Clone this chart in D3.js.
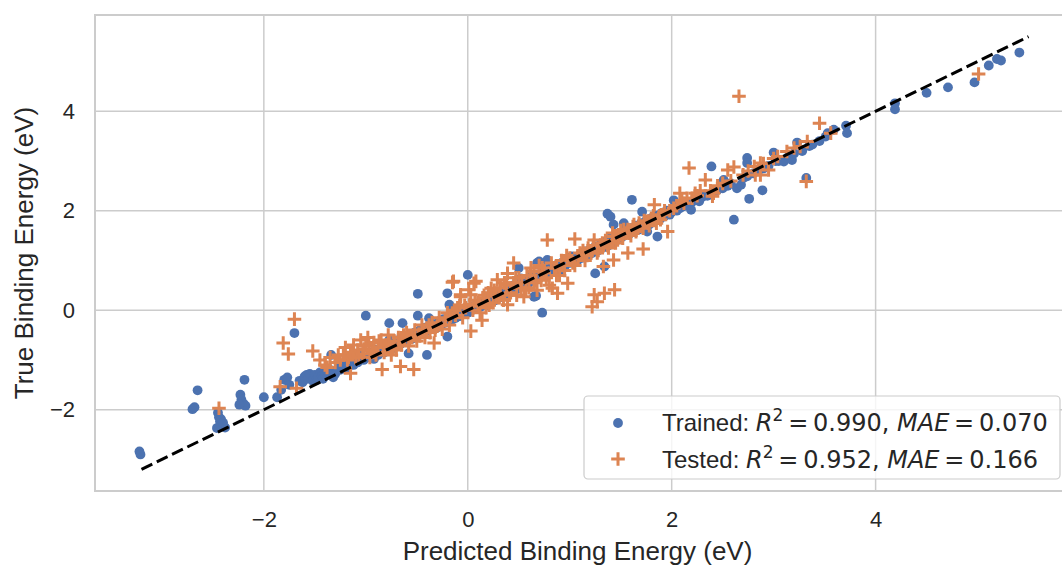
<!DOCTYPE html>
<html>
<head>
<meta charset="utf-8">
<script src="https://cdn.jsdelivr.net/npm/d3@7"></script>
<style>
  body { margin: 0; background: #fff; }
  svg { display: block; }
</style>
</head>
<body>
<div id="chart"></div>
<script>
// Trained points: [predicted, true]
const trainedPoints = [
  [-3.22,-2.84],[-3.21,-2.9],
  [-2.65,-1.61],[-2.70,-1.99],[-2.68,-1.95],
  [-2.45,-2.06],[-2.44,-2.15],[-2.43,-2.24],[-2.41,-2.3],[-2.38,-2.36],[-2.46,-2.37],[-2.42,-2.19],[-2.40,-2.26],
  [-2.23,-1.70],[-2.22,-1.80],[-2.20,-1.88],[-2.18,-1.92],[-2.24,-1.90],[-2.19,-1.40],
  [-2.00,-1.75],[-1.87,-1.75],
  [-1.80,-1.40],[-1.77,-1.35],[-1.75,-1.50],[-1.83,-1.60],[-1.70,-0.46],
  [-1.65,-1.42],[-1.62,-1.45],[-1.60,-1.33],[-1.58,-1.3],[-1.57,-1.38],[-1.55,-1.28],[-1.52,-1.42],[-1.50,-1.30],
  [-1.48,-1.4],[-1.47,-1.35],[-1.45,-1.25],[-1.43,-1.32],[-1.42,-1.38],[-1.40,-1.30],[-1.38,-1.22],[-1.37,-1.25],
  [-1.35,-1.20],[-1.33,-1.28],[-1.32,-1.35],[-1.30,-1.28],[-1.28,-1.20],[-1.26,-1.15],[-1.25,-1.2],
  [-1.34,-0.90],[-1.22,-1.12],[-1.20,-1.05],[-1.18,-1.18],[-1.16,-1.08],
  [-1.15,-1.0],[-1.12,-1.1],[-1.10,-0.95],[-1.08,-1.05],[-1.06,-0.98],[-1.05,-0.92],[-1.02,-1.0],[-1.0,-0.11],
  [-0.98,-0.95],[-0.96,-0.9],[-0.95,-0.85],[-0.92,-0.98],[-0.9,-0.8],[-0.88,-0.9],[-0.86,-0.82],[-0.85,-0.75],
  [-0.82,-0.85],[-0.8,-0.7],[-0.79,-0.75],[-0.77,-0.26],[-0.77,-0.6],[-0.75,-0.78],[-0.72,-0.65],[-0.7,-0.72],
  [-0.69,-0.66],[-0.68,-0.6],[-0.66,-0.68],[-0.64,-0.26],[-0.63,-0.6],[-0.62,-0.55],[-0.6,-0.62],[-0.58,-0.87],
  [-0.57,-0.5],[-0.56,-0.53],[-0.55,-0.58],[-0.52,-0.45],[-0.51,-0.55],[-0.5,-0.5],[-0.49,0.33],[-0.49,-0.11],
  [-0.47,-0.4],[-0.46,-0.44],[-0.45,-0.48],[-0.43,-0.46],[-0.42,-0.35],[-0.40,-0.9],[-0.4,-0.42],[-0.39,-0.36],
  [-0.38,-0.16],[-0.37,-0.3],[-0.35,-0.38],[-0.34,-0.32],[-0.32,-0.28],[-0.31,-0.3],[-0.3,-0.35],[-0.28,-0.22],
  [-0.27,-0.26],[-0.26,-0.3],[-0.24,-0.18],[-0.23,-0.22],[-0.22,-0.25],[-0.2,-0.53],[-0.2,0.34],[-0.19,-0.18],
  [-0.18,0.11],[-0.18,-0.15],[-0.16,-0.2],[-0.15,-0.14],[-0.14,-0.1],[-0.12,-0.16],[-0.11,-0.09],[-0.1,-0.05],
  [-0.08,-0.12],[-0.07,-0.06],[-0.06,-0.02],[-0.04,-0.08],[-0.03,-0.03],[-0.02,0.0],[0.0,0.71],[0.0,-0.05],
  [0.01,-0.02],[0.02,0.04],
  [0.04,0.0],[0.05,0.05],[0.06,0.08],[0.08,0.02],[0.09,0.08],[0.1,0.12],[0.12,0.06],[0.13,0.12],[0.15,0.15],
  [0.17,0.18],[0.18,0.1],[0.2,0.22],[0.21,0.2],[0.22,0.16],[0.25,0.3],[0.26,0.24],[0.27,0.2],[0.3,0.33],
  [0.31,0.3],[0.32,0.26],[0.35,0.38],[0.36,0.33],[0.38,0.3],[0.4,0.45],[0.41,0.4],[0.42,0.36],[0.45,0.5],
  [0.46,0.44],[0.48,0.42],[0.5,0.55],[0.5,0.85],[0.52,0.64],[0.53,0.52],[0.55,0.5],[0.57,0.56],[0.58,0.62],
  [0.6,0.55],[0.62,0.68],[0.63,0.6],[0.65,0.27],[0.67,0.29],[0.68,0.95],[0.69,0.7],[0.7,0.98],[0.7,0.66],
  [0.73,-0.05],[0.72,0.75],[0.74,0.72],[0.75,0.7],[0.78,1.01],[0.78,0.82],[0.8,0.75],[0.81,0.8],[0.83,0.88],
  [0.85,0.8],[0.86,0.86],[0.88,0.92],[0.9,0.88],[0.91,0.81],[0.92,0.95],[0.95,0.88],[0.96,0.94],[0.98,1.02],
  [1.0,0.95],[1.02,1.08],[1.03,1.0],[1.05,0.98],[1.07,1.06],[1.08,1.01],[1.1,1.12],[1.12,1.05],[1.13,1.1],
  [1.15,1.18],[1.17,1.16],[1.18,1.1],[1.2,1.22],[1.22,1.15],[1.23,1.2],[1.25,0.74],[1.25,1.28],[1.27,1.26],
  [1.28,1.2],[1.3,1.32],[1.32,1.25],[1.33,1.3],[1.34,0.88],[1.35,1.38],[1.37,1.94],[1.38,1.3],[1.39,1.36],
  [1.4,1.88],[1.4,1.45],[1.42,1.36],[1.43,1.72],[1.44,1.42],[1.45,1.5],[1.48,1.42],[1.49,1.47],[1.5,1.55],
  [1.52,1.48],[1.53,1.75],[1.54,1.52],[1.55,1.6],[1.58,1.52],[1.59,1.58],[1.6,1.65],[1.61,2.22],[1.62,1.58],
  [1.63,1.62],[1.65,1.7],[1.67,1.66],[1.68,1.62],[1.7,1.75],[1.71,1.98],[1.72,1.68],[1.73,1.7],[1.75,1.8],
  [1.76,1.58],[1.77,1.76],[1.78,1.72],[1.8,1.85],[1.82,1.78],[1.83,1.82],[1.85,1.9],[1.86,1.48],[1.87,1.86],
  [1.88,1.82],[1.9,1.95],[1.92,1.88],[1.93,1.9],[1.95,2.0],[1.97,1.96],[1.98,1.92],[2.0,1.98],
  [2.02,2.21],[2.05,2.0],[2.08,2.05],[2.1,2.08],[2.13,2.1],[2.15,2.12],[2.19,2.02],[2.2,2.18],[2.25,2.22],
  [2.27,2.19],[2.3,2.28],[2.33,2.32],[2.35,2.3],[2.39,2.89],[2.42,2.38],[2.45,2.42],[2.5,2.45],[2.51,2.62],
  [2.55,2.5],[2.58,2.55],[2.61,1.82],[2.64,2.45],[2.68,2.52],[2.7,2.65],[2.74,2.69],[2.74,3.06],[2.74,2.96],
  [2.76,2.24],[2.8,2.75],[2.85,2.8],[2.89,2.41],[2.9,2.85],[2.95,2.9],[3.0,3.17],[3.02,3.0],[3.05,3.0],
  [3.1,2.99],[3.15,3.1],[3.18,3.02],[3.2,3.15],[3.23,3.37],[3.28,3.2],[3.32,2.66],[3.35,3.3],[3.38,3.33],
  [3.45,3.4],[3.51,3.49],[3.53,3.56],[3.59,3.63],[3.71,3.71],[3.72,3.56],
  [4.19,4.16],[4.19,4.04],[4.50,4.37],[4.71,4.48],[4.97,4.58],[5.11,4.92],[5.19,5.05],[5.23,5.02],[5.41,5.18]
];

// Tested points: [predicted, true]
const testedPoints = [
  [-2.44,-1.97],[-1.84,-1.54],[-1.70,-0.18],[-1.81,-0.66],[-1.76,-0.88],[-1.52,-0.82],[-1.68,-1.57],
  [-1.45,-1.0],[-1.40,-1.1],[-1.35,-0.95],[-1.30,-1.05],[-1.38,-1.15],[-1.27,-0.9],[-1.25,-1.0],
  [-1.22,-0.9],[-1.2,-0.75],[-1.18,-1.0],[-1.17,-0.95],[-1.15,-1.27],[-1.15,-0.85],[-1.13,-0.85],[-1.12,-0.7],
  [-1.1,-0.95],[-1.08,-0.8],[-1.07,-0.9],[-1.05,-0.6],[-1.03,-0.88],[-1.02,-0.78],[-1.0,-0.72],[-0.98,-0.55],
  [-0.97,-0.7],[-0.96,-0.95],[-0.94,-0.8],[-0.93,-0.85],[-0.92,-0.65],[-0.9,-0.9],[-0.88,-0.75],[-0.87,-0.62],
  [-0.84,-1.19],[-0.85,-0.6],[-0.83,-0.72],[-0.82,-0.85],[-0.8,-0.7],[-0.78,-0.5],[-0.77,-0.65],[-0.75,-0.9],
  [-0.73,-0.75],[-0.72,-0.62],[-0.7,-0.8],[-0.68,-0.55],[-0.67,-0.62],[-0.66,-1.13],[-0.65,-0.7],[-0.63,-0.5],
  [-0.62,-0.6],[-0.6,-0.45],[-0.58,-0.72],[-0.57,-0.6],[-0.55,-0.55],[-0.53,-1.19],[-0.52,-0.4],[-0.5,-0.62],
  [-0.48,-0.48],[-0.47,-0.52],[-0.45,-0.3],[-0.43,-0.42],[-0.42,-0.55],[-0.4,-0.38],[-0.38,-0.3],[-0.37,-0.45],
  [-0.35,-0.25],[-0.33,-0.66],[-0.32,-0.4],[-0.3,-0.32],[-0.28,-0.15],[-0.27,-0.28],[-0.25,-0.38],[-0.22,-0.2],
  [-0.2,-0.05],[-0.18,-0.3],[-0.17,-0.12],[-0.15,0.56],[-0.14,0.58],[-0.13,0.0],[-0.12,-0.1],[-0.1,0.05],
  [-0.08,0.1],[-0.07,0.31],[-0.07,0.27],[-0.05,-0.15],[-0.03,0.1],[-0.02,0.05],
  [0.01,0.41],[0.02,0.12],[0.03,0.31],[0.03,-0.42],[0.05,0.0],[0.06,0.54],[0.07,0.2],[0.08,0.58],[0.1,0.15],
  [0.11,0.08],[0.12,-0.05],[0.14,-0.2],[0.15,0.25],[0.16,0.3],[0.18,0.05],[0.2,0.35],[0.21,0.1],[0.23,0.44],
  [0.25,0.15],[0.26,0.4],[0.28,0.28],[0.29,0.61],[0.31,0.25],[0.32,0.45],[0.35,0.2],[0.36,0.55],[0.38,0.5],
  [0.39,0.74],[0.39,0.11],[0.41,0.3],[0.42,0.35],[0.45,0.95],[0.45,0.55],[0.47,0.65],[0.48,0.3],[0.5,0.65],
  [0.52,0.45],[0.53,0.55],[0.55,0.27],[0.57,0.4],[0.58,0.7],[0.6,0.45],[0.61,0.7],[0.62,0.85],[0.65,0.78],
  [0.65,0.55],[0.67,0.6],[0.68,0.4],[0.7,0.9],[0.72,0.6],[0.73,0.85],[0.75,0.75],[0.77,0.65],[0.78,1.41],
  [0.8,0.5],[0.82,0.95],[0.83,0.44],[0.85,0.85],[0.87,0.7],[0.88,0.34],[0.9,0.7],[0.92,1.0],[0.93,0.9],
  [0.95,0.8],[0.97,1.1],[0.98,0.54],[1.0,1.05],[1.03,0.95],[1.05,1.43],[1.05,0.9],[1.08,1.05],[1.1,1.15],
  [1.13,1.2],[1.15,1.0],[1.17,1.1],[1.18,1.25],[1.21,1.15],[1.23,1.3],[1.24,1.41],
  [1.22,0.07],[1.24,0.31],[1.27,0.17],[1.34,0.34],[1.27,1.15],[1.28,1.2],[1.3,1.31],[1.32,1.35],[1.33,0.88],
  [1.35,1.4],[1.37,1.3],[1.38,1.25],[1.42,1.55],[1.43,1.01],[1.44,0.41],[1.43,1.48],[1.45,1.35],[1.47,1.41],
  [1.48,1.5],[1.5,1.6],[1.52,1.45],[1.53,1.62],[1.55,1.55],[1.57,1.62],[1.57,1.15],[1.58,1.55],[1.6,1.5],
  [1.62,1.68],[1.63,1.72],[1.65,1.58],[1.67,1.65],[1.68,1.75],[1.72,1.23],[1.72,1.65],[1.73,1.8],[1.75,1.78],
  [1.77,1.75],[1.78,1.7],[1.8,1.85],[1.82,1.9],[1.83,2.12],[1.85,1.75],[1.87,1.85],[1.89,1.82],[1.9,1.92],
  [1.93,2.0],[1.96,1.58],[1.98,2.0],[2.02,2.05],[2.05,2.1],[2.08,2.35],[2.1,2.2],[2.12,2.15],[2.15,2.25],
  [2.17,2.86],[2.2,2.25],[2.23,2.35],[2.25,2.3],[2.28,2.4],[2.33,2.62],[2.38,2.4],[2.4,2.29],[2.41,2.35],
  [2.45,2.5],[2.5,2.55],[2.55,2.82],[2.58,2.6],[2.61,2.88],[2.66,4.30],[2.7,2.72],[2.75,2.8],[2.81,2.89],
  [2.82,2.72],[2.87,2.96],[2.87,2.72],[2.9,2.95],[2.95,2.82],[3.0,3.05],[3.04,3.09],[3.13,3.19],[3.2,3.26],
  [3.26,3.29],[3.32,2.59],[3.33,3.39],[3.45,3.76],[3.56,3.56],[5.01,4.75]
];

// Parity line end points and tick values
const parityLine = [[-3.2,-3.2],[5.5,5.5]];
const xTicks = [-2, 0, 2, 4];
const yTicks = [-2, 0, 2, 4];
const legendLabels = [
  { name: "Trained", r2: "0.990", mae: "0.070" },
  { name: "Tested", r2: "0.952", mae: "0.166" }
];

const width = 1062;
const height = 567;
const margin = { top: 15, right: -11, bottom: 76, left: 95 };

const blue = "#4C72B0";
const orange = "#DD8452";
const gridColor = "#cccccc";
const textColor = "#262626";

// matplotlib-style 5% padding around the data extent
const allX = trainedPoints.concat(testedPoints, parityLine).map(d => d[0]);
const allY = trainedPoints.concat(testedPoints, parityLine).map(d => d[1]);
function padded(vals) {
  const [lo, hi] = d3.extent(vals);
  const p = (hi - lo) * 0.05;
  return [lo - p, hi + p];
}

const x = d3.scaleLinear()
  .domain(padded(allX))
  .range([margin.left, width - margin.right]);

const y = d3.scaleLinear()
  .domain(padded(allY))
  .range([height - margin.bottom, margin.top]);

const svg = d3.select("#chart").append("svg")
  .attr("width", width)
  .attr("height", height);

// grid
svg.append("g")
  .selectAll("line")
  .data(xTicks)
  .enter().append("line")
  .attr("x1", d => x(d)).attr("x2", d => x(d))
  .attr("y1", y.range()[0]).attr("y2", y.range()[1])
  .attr("stroke", gridColor).attr("stroke-width", 1.5);

svg.append("g")
  .selectAll("line")
  .data(yTicks)
  .enter().append("line")
  .attr("x1", x.range()[0]).attr("x2", x.range()[1])
  .attr("y1", d => y(d)).attr("y2", d => y(d))
  .attr("stroke", gridColor).attr("stroke-width", 1.5);

// frame (right side falls outside the picture)
svg.append("rect")
  .attr("x", x.range()[0])
  .attr("y", y.range()[1])
  .attr("width", x.range()[1] - x.range()[0])
  .attr("height", y.range()[0] - y.range()[1])
  .attr("fill", "none")
  .attr("stroke", gridColor)
  .attr("stroke-width", 2);

// axes (ticks hidden, labels only)
const xAxis = svg.append("g")
  .attr("transform", `translate(0,${y.range()[0]})`)
  .call(d3.axisBottom(x).tickValues(xTicks).tickSize(0).tickPadding(20).tickFormat(d3.format("d")));
const yAxis = svg.append("g")
  .attr("transform", `translate(${x.range()[0]},0)`)
  .call(d3.axisLeft(y).tickValues(yTicks).tickSize(0).tickPadding(20).tickFormat(d3.format("d")));

[xAxis, yAxis].forEach(g => {
  g.select(".domain").remove();
  g.selectAll("text")
    .attr("fill", textColor)
    .style("font-family", "'Liberation Sans', Arial, sans-serif")
    .style("font-size", "22px");
});

// points
svg.append("g")
  .selectAll("circle")
  .data(trainedPoints)
  .enter().append("circle")
  .attr("cx", d => x(d[0]))
  .attr("cy", d => y(d[1]))
  .attr("r", 4.9)
  .attr("fill", blue);

const plus = "M-6.8,0H6.8M0,-6.8V6.8";
svg.append("g")
  .selectAll("path")
  .data(testedPoints)
  .enter().append("path")
  .attr("transform", d => `translate(${x(d[0])},${y(d[1])})`)
  .attr("d", plus)
  .attr("stroke", orange)
  .attr("stroke-width", 3)
  .attr("fill", "none");

// dashed parity line
svg.append("path")
  .datum(parityLine)
  .attr("d", d3.line().x(d => x(d[0])).y(d => y(d[1])))
  .attr("stroke", "#000")
  .attr("stroke-width", 3)
  .attr("stroke-dasharray", "12,5")
  .attr("fill", "none");

// axis labels
svg.append("text")
  .attr("x", (x.range()[0] + 1060) / 2)
  .attr("y", 560)
  .attr("text-anchor", "middle")
  .attr("fill", textColor)
  .style("font-family", "'Liberation Sans', Arial, sans-serif")
  .style("font-size", "26px")
  .text("Predicted Binding Energy (eV)");

svg.append("text")
  .attr("transform", `translate(33,${(y.range()[0] + y.range()[1]) / 2}) rotate(-90)`)
  .attr("text-anchor", "middle")
  .attr("fill", textColor)
  .style("font-family", "'Liberation Sans', Arial, sans-serif")
  .style("font-size", "26px")
  .text("True Binding Energy (eV)");

// legend
const legend = svg.append("g");
legend.append("rect")
  .attr("x", 584).attr("y", 396)
  .attr("width", 476).attr("height", 83)
  .attr("rx", 4)
  .attr("fill", "#fff").attr("fill-opacity", 0.8)
  .attr("stroke", gridColor).attr("stroke-width", 1.2);

legend.append("circle")
  .attr("cx", 618).attr("cy", 423).attr("r", 4.9).attr("fill", blue);
legend.append("path")
  .attr("transform", "translate(618,459)")
  .attr("d", plus)
  .attr("stroke", orange).attr("stroke-width", 3).attr("fill", "none");

legendLabels.forEach((l, i) => {
  const t = legend.append("text")
    .attr("x", 662)
    .attr("y", 431 + i * 37)
    .attr("fill", textColor)
    .style("font-size", "24px");
  t.append("tspan").style("font-family", "'Liberation Sans', Arial, sans-serif").text(l.name + ": ");
  t.append("tspan").style("font-family", "'DejaVu Sans'").style("font-style", "italic").text("R");
  t.append("tspan").style("font-family", "'DejaVu Sans'").style("font-size", "17px").attr("dy", -10).text("2");
  t.append("tspan").style("font-family", "'DejaVu Sans'").attr("dy", 10).text("\u2009=\u20090.990, ".replace("0.990", l.r2));
  t.append("tspan").style("font-family", "'DejaVu Sans'").style("font-style", "italic").text("MAE");
  t.append("tspan").style("font-family", "'DejaVu Sans'").text("\u2009=\u2009" + l.mae);
});
</script>
</body>
</html>
